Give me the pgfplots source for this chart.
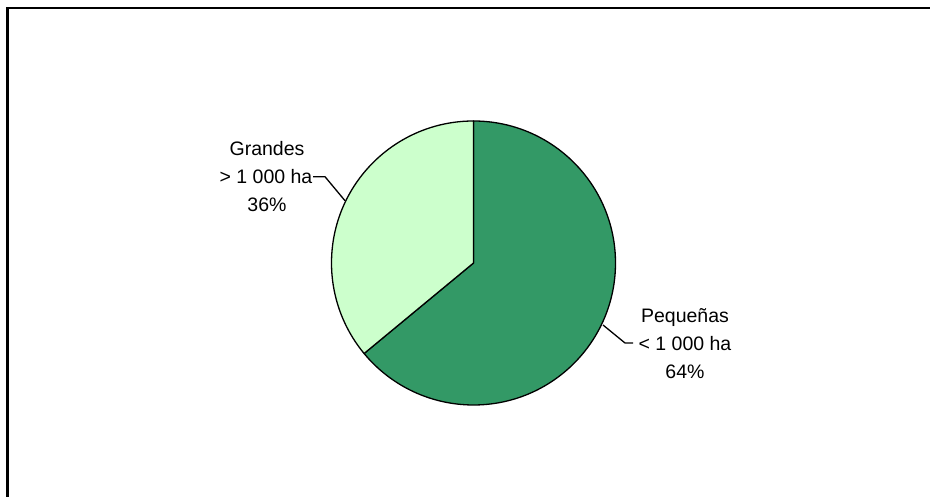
\documentclass[border=0pt]{standalone}
\usepackage{pgfplots}
\usepackage{pgfplotstable}
\pgfplotsset{compat=1.18}
\usepackage{fontspec}
\setmainfont{Liberation Sans}

\definecolor{pdark}{HTML}{339966}
\definecolor{plight}{HTML}{CCFFCC}

% share of farms by size (percent)
\pgfplotstableread{
label value
Pequenas 64
Grandes 36
}\piedata

\pgfplotstablegetelem{0}{value}\of\piedata
\let\vA\pgfplotsretval
\pgfplotstablegetelem{1}{value}\of\piedata
\let\vB\pgfplotsretval
\pgfmathsetmacro\angA{90-3.6*\vA}
\pgfmathsetmacro\angB{90+3.6*\vB}

\begin{document}
\begin{tikzpicture}
\begin{axis}[
    x=1pt, y=1pt,
    xmin=0, xmax=930, ymin=0, ymax=497,
    hide axis,
    clip=false,
]
% outer frame (only top and left edges show)
\draw[line width=2.4pt] (axis cs:7.5,-30) rectangle (axis cs:960,489);

% slices
\filldraw[fill=pdark, draw=black, line width=1.3pt, line join=round]
    (axis cs:473.5,234) -- ++(90:142pt) arc[start angle=90, end angle=\angA, radius=142pt] -- cycle;
\filldraw[fill=plight, draw=black, line width=1.3pt, line join=round]
    (axis cs:473.5,234) -- ++(90:142pt) arc[start angle=90, end angle=\angB, radius=142pt] -- cycle;

% leader lines
\draw[line width=1.3pt] (axis cs:313,320.3) -- (axis cs:325,320.3) -- (axis cs:345,296.3);
\draw[line width=1.3pt] (axis cs:603,172) -- (axis cs:625,154) -- (axis cs:633,154);

% labels
\begin{scope}[every node/.style={font=\fontsize{19.5}{23}\selectfont, anchor=base, inner sep=0pt}]
\node at (axis cs:267,341) {Grandes};
\node at (axis cs:266,313) {> 1 000 ha};
\node at (axis cs:267,285) {36\%};
\node at (axis cs:685,174) {Pequeñas};
\node at (axis cs:685,146) {< 1 000 ha};
\node at (axis cs:685,118) {64\%};
\end{scope}
\end{axis}
\pgfresetboundingbox
\useasboundingbox (0,0) rectangle (930pt,497pt);
\end{tikzpicture}
\end{document}
